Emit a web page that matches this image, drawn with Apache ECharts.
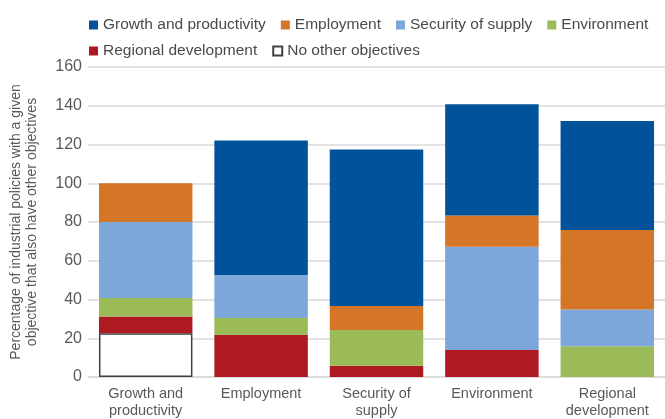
<!DOCTYPE html>
<html>
<head>
<meta charset="utf-8">
<script src="https://cdn.jsdelivr.net/npm/echarts@6/dist/echarts.min.js"></script>
<style>
  html, body { margin: 0; padding: 0; background: #fff; }
  #chart { width: 665px; height: 419px; }
</style>
</head>
<body>
<div id="chart"></div>
<script>
const categories = ["Growth and\nproductivity", "Employment", "Security of\nsupply", "Environment", "Regional\ndevelopment"];

// stacked from bottom to top
const noOther = [22.6, null, null, null, null];
const regional = [8.6, 21.8, 5.8, 14.0, null];
const environment = [9.6, 8.7, 18.5, null, 15.9];
const security = [39.2, 22.1, null, 53.2, 18.9];
const employment = [20.0, null, 12.4, 16.2, 41.1];
const growth = [null, 69.5, 80.7, 57.4, 56.2];

const yTicks = [0, 20, 40, 60, 80, 100, 120, 140, 160];

const font = "'Liberation Sans', Arial, sans-serif";
const grey = "#595959";

const chart = echarts.init(document.getElementById("chart"));

function bar(name, data, color, border) {
  return {
    name: name,
    type: "bar",
    stack: "total",
    data: data,
    barCategoryGap: "19%",
    itemStyle: border
      ? { color: color, borderColor: "#404040", borderWidth: 1.5 }
      : { color: color },
  };
}

const legendBase = {
  left: 84,
  width: 600,
  itemWidth: 9,
  itemHeight: 9,
  itemGap: 15,
  icon: "rect",
  textStyle: { fontFamily: font, fontSize: 15.5, color: "#4a4a4a" },
};

chart.setOption({
  animation: false,
  textStyle: { fontFamily: font },
  legend: [
    Object.assign({}, legendBase, {
      top: 12,
      data: ["Growth and productivity", "Employment", "Security of supply", "Environment"],
    }),
    Object.assign({}, legendBase, {
      top: 38,
      data: ["Regional development", "No other objectives"],
    }),
  ],
  grid: {
    left: 87,
    top: 67,
    width: 589,
    bottom: 41,
  },
  xAxis: {
    type: "category",
    data: categories,
    axisTick: { show: false },
    axisLine: { lineStyle: { color: "#d9d9d9", width: 1.5 } },
    axisLabel: { interval: 0, fontFamily: font, fontSize: 14.5, color: grey, lineHeight: 17, margin: 8 },
  },
  yAxis: {
    type: "value",
    min: yTicks[0],
    max: yTicks[yTicks.length - 1],
    interval: 20,
    name: "Percentage of industrial policies with a given\nobjective that also have other objectives",
    nameLocation: "middle",
    nameGap: 48,
    nameTextStyle: { fontFamily: font, fontSize: 14, color: grey, lineHeight: 16 },
    axisLabel: { fontFamily: font, fontSize: 16, color: grey, margin: 6 },
    splitLine: { lineStyle: { color: "#d9d9d9", width: 1.5 } },
  },
  series: [
    bar("No other objectives", noOther, "#ffffff", true),
    bar("Regional development", regional, "#ad1a22"),
    bar("Environment", environment, "#9bbb59"),
    bar("Security of supply", security, "#7da7d9"),
    bar("Employment", employment, "#d47527"),
    bar("Growth and productivity", growth, "#00529b"),
  ],
});
</script>
</body>
</html>
